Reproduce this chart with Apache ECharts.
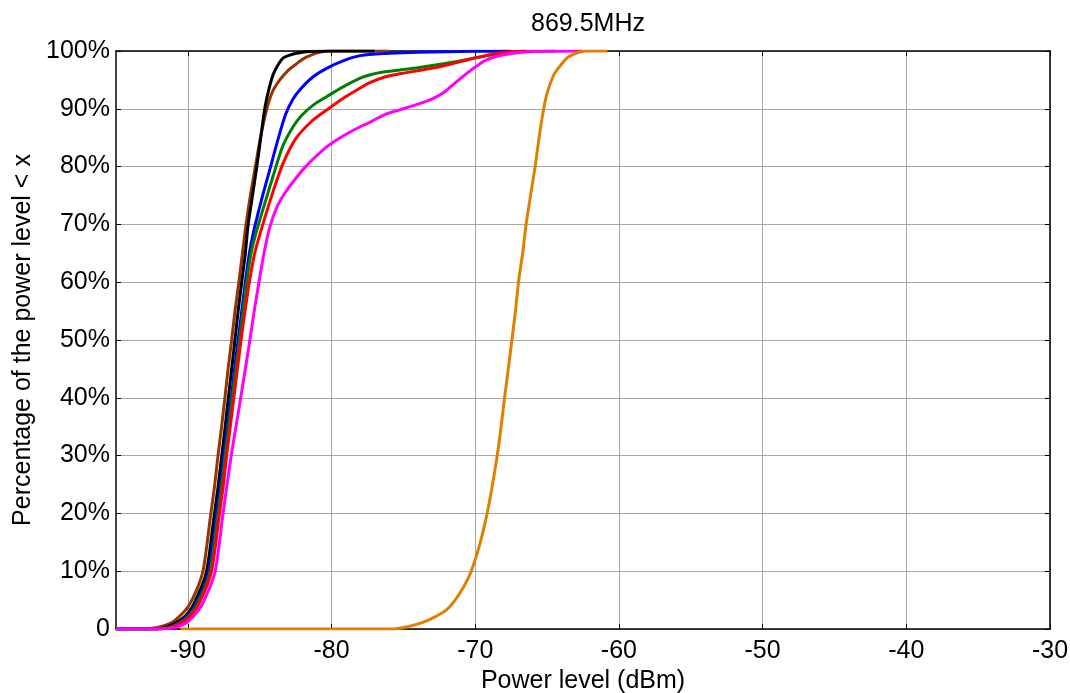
<!DOCTYPE html>
<html>
<head>
<meta charset="utf-8">
<script src="https://cdn.jsdelivr.net/npm/echarts@6/dist/echarts.min.js"></script>
<style>html,body{margin:0;padding:0;background:#fff}#c{width:1070px;height:693px}</style>
</head>
<body>
<div id="c"></div>
<script>
const title = '869.5MHz';
const xName = 'Power level (dBm)';
const yName = 'Percentage of the power level < x';
const xTicks = [-90, -80, -70, -60, -50, -40, -30];
const yTicks = [0, 10, 20, 30, 40, 50, 60, 70, 80, 90, 100];

const brownData = [[-95,0],[-93,0],[-92.2,0.2],[-91.6,0.6],[-91,1.3],[-90.5,2.4],[-90,3.8],[-89.6,5.6],[-89.25,7.6],[-88.95,10],[-88.7,14],[-88.45,19],[-88.15,24.5],[-87.9,30],[-87.65,35],[-87.42,40],[-87.2,45],[-86.95,50],[-86.72,55],[-86.45,60],[-86.2,65],[-85.95,70],[-85.65,75],[-85.3,80],[-84.95,85],[-84.5,90],[-84.1,93],[-83.6,95],[-83,96.7],[-82.43,97.8],[-82,98.6],[-81.5,99.2],[-81,99.7],[-80.3,100],[-76,100]];
const blackData = [[-95,0],[-92.5,0],[-91.8,0.15],[-91.4,0.4],[-90.8,1.1],[-90.2,2.2],[-89.7,3.8],[-89.35,5.6],[-89,7.6],[-88.7,10],[-88.45,14],[-88.2,19],[-87.9,24.5],[-87.64,30],[-87.4,35],[-87.18,40],[-86.95,45],[-86.72,50],[-86.5,55],[-86.25,60],[-86,65],[-85.8,70],[-85.5,75],[-85.2,80],[-84.9,85.5],[-84.63,90.3],[-84.35,93.5],[-84.05,96],[-83.7,97.7],[-83.36,98.8],[-82.9,99.3],[-82.43,99.6],[-81.5,99.9],[-80,100],[-77,100]];
const blueData = [[-95,0],[-92.3,0],[-91.6,0.15],[-91.2,0.4],[-90.6,1.1],[-90.05,2.2],[-89.55,3.8],[-89.2,5.6],[-88.85,7.6],[-88.55,10],[-88.3,14],[-88.05,19],[-87.75,24.5],[-87.5,30],[-87.25,35],[-86.98,40],[-86.75,45],[-86.5,50],[-86.25,55],[-86,60],[-85.72,65],[-85.4,69],[-84.9,74],[-84.35,79],[-83.75,84.5],[-83.2,89],[-82.7,91.6],[-82.2,93.3],[-81.3,95.5],[-80.34,97],[-79.2,98.3],[-78,99.2],[-76,99.6],[-74,99.8],[-70,99.95],[-67.5,100]];
const greenData = [[-95,0],[-92.2,0],[-91.5,0.15],[-91.1,0.4],[-90.5,1.1],[-89.95,2.2],[-89.45,3.8],[-89.1,5.6],[-88.75,7.6],[-88.45,10],[-88.2,14],[-87.95,19],[-87.65,24.5],[-87.4,30],[-87.15,35],[-86.9,40],[-86.65,45],[-86.4,50],[-86.15,55],[-85.9,60],[-85.6,65],[-85.2,69],[-84.6,74],[-84.05,78.5],[-83.4,83.5],[-82.7,86.8],[-82.1,88.8],[-81.3,90.6],[-80.34,92.1],[-79.2,93.8],[-78,95.3],[-77.3,95.9],[-76.3,96.4],[-75,96.8],[-74,97.1],[-71.7,98],[-69.35,99.1],[-67.7,99.8],[-66.5,100]];
const redData = [[-95,0],[-92.1,0],[-91.4,0.15],[-91,0.4],[-90.4,1.1],[-89.85,2.2],[-89.35,3.8],[-89,5.6],[-88.65,7.6],[-88.35,10],[-88.1,14],[-87.85,19],[-87.55,24.5],[-87.3,30],[-87.05,35],[-86.8,40],[-86.55,45],[-86.3,50],[-86.02,55],[-85.72,60],[-85.35,65],[-84.9,69],[-84.35,73.5],[-83.8,77.7],[-83.3,81],[-82.5,84.8],[-81.4,87.8],[-80.34,89.8],[-79.2,91.8],[-78,93.6],[-77.45,94.4],[-76.3,95.5],[-75.14,96.1],[-74,96.6],[-72.83,97.1],[-71.6,97.8],[-70.5,98.5],[-69.3,99.2],[-68.2,99.7],[-66.5,99.95],[-64.5,100]];
const magentaData = [[-95,0],[-91.8,0],[-91.1,0.15],[-90.7,0.4],[-90.1,1.1],[-89.6,2.2],[-89.1,3.8],[-88.75,5.6],[-88.4,7.6],[-88.1,10],[-87.85,14],[-87.6,19],[-87.3,24.5],[-86.98,30],[-86.65,35],[-86.32,40],[-86,45],[-85.68,50],[-85.38,55],[-85.05,60],[-84.7,65],[-84.3,69.5],[-83.8,73],[-83.2,75.6],[-82.6,77.6],[-81.8,80],[-80.34,83.4],[-79.2,85.3],[-78,86.9],[-77.45,87.5],[-76.3,89],[-75.14,89.9],[-74,90.8],[-73.2,91.5],[-72.6,92.2],[-72.1,93],[-71.67,93.9],[-71.1,95.1],[-70.5,96.3],[-69.9,97.4],[-69.35,98.3],[-68.5,99.1],[-67.7,99.5],[-66,99.9],[-62.5,100]];
const orangeData = [[-90.5,0],[-76,0],[-75.5,0.05],[-74.7,0.4],[-73.7,1.1],[-72.8,2.1],[-72,3.3],[-71.4,5],[-70.8,7.3],[-70.28,10],[-69.7,14.5],[-69.17,20],[-68.8,25],[-68.47,30],[-68.2,35],[-67.96,40],[-67.7,45],[-67.45,50],[-67.2,55],[-66.99,60],[-66.7,65],[-66.46,70],[-66.15,75],[-65.83,80],[-65.5,86],[-65.2,90.5],[-64.95,93.1],[-64.5,96],[-64,97.7],[-63.5,99],[-62.9,99.7],[-62.3,100],[-60.8,100]];

const seriesDefs = [
  {name: 'brown', data: brownData, color: '#993300'},
  {name: 'black', data: blackData, color: '#000000'},
  {name: 'blue', data: blueData, color: '#0000ff'},
  {name: 'green', data: greenData, color: '#008000'},
  {name: 'red', data: redData, color: '#ff0000'},
  {name: 'magenta', data: magentaData, color: '#ff00ff'},
  {name: 'orange', data: orangeData, color: '#df8000'}
];

const FONT = 'Liberation Sans, Arial, sans-serif';
const FS = 25;
const gridColor = '#a8a8a8';

const chart = echarts.init(document.getElementById('c'), null, {renderer: 'canvas'});
const baseX = {
  type: 'value', min: -95, max: -30,
  axisLine: {show: true, onZero: false, lineStyle: {color: '#000', width: 1.5}},
  axisTick: {show: true, inside: true, length: 5, customValues: xTicks, lineStyle: {color: '#000'}},
};
const baseY = {
  type: 'value', min: 0, max: 100, interval: 10,
  axisLine: {show: true, onZero: false, lineStyle: {color: '#000', width: 1.5}},
  axisTick: {show: true, inside: true, length: 5, customValues: yTicks, lineStyle: {color: '#000'}},
};
chart.setOption({
  animation: false,
  backgroundColor: '#fff',
  title: {text: title, left: 583, top: 7, textAlign: 'center',
    textStyle: {fontFamily: FONT, fontSize: FS, fontWeight: 'normal', color: '#000'}},
  grid: {left: 116, right: 20, top: 51, bottom: 64, containLabel: false, outerBoundsMode: 'none'},
  xAxis: [
    Object.assign({}, baseX, {
      position: 'bottom',
      name: xName, nameLocation: 'middle', nameGap: 36,
      nameTextStyle: {fontFamily: FONT, fontSize: FS, color: '#000'},
      axisLabel: {show: true, customValues: xTicks, margin: 10, fontFamily: FONT, fontSize: FS, color: '#000'},
      splitLine: {show: true, lineStyle: {color: gridColor, width: 1}}
    }),
    Object.assign({}, baseX, {
      position: 'top', axisLabel: {show: false}, splitLine: {show: false}
    })
  ],
  yAxis: [
    Object.assign({}, baseY, {
      position: 'left',
      name: yName, nameLocation: 'middle', nameGap: 79, nameRotate: 90,
      nameTextStyle: {fontFamily: FONT, fontSize: FS, color: '#000'},
      axisLabel: {show: true, margin: 6, fontFamily: FONT, fontSize: FS, color: '#000',
        customValues: yTicks,
        formatter: v => v === 0 ? '0' : v + '%'},
      splitLine: {show: true, lineStyle: {color: gridColor, width: 1}}
    }),
    Object.assign({}, baseY, {
      position: 'right', axisLabel: {show: false}, splitLine: {show: false}
    })
  ],
  series: seriesDefs.map(s => ({
    name: s.name, type: 'line', data: s.data, xAxisIndex: 0, yAxisIndex: 0,
    showSymbol: false, symbol: 'none', smooth: 0.3,
    lineStyle: {color: s.color, width: 3},
    itemStyle: {color: s.color}
  }))
});
</script>
</body>
</html>
